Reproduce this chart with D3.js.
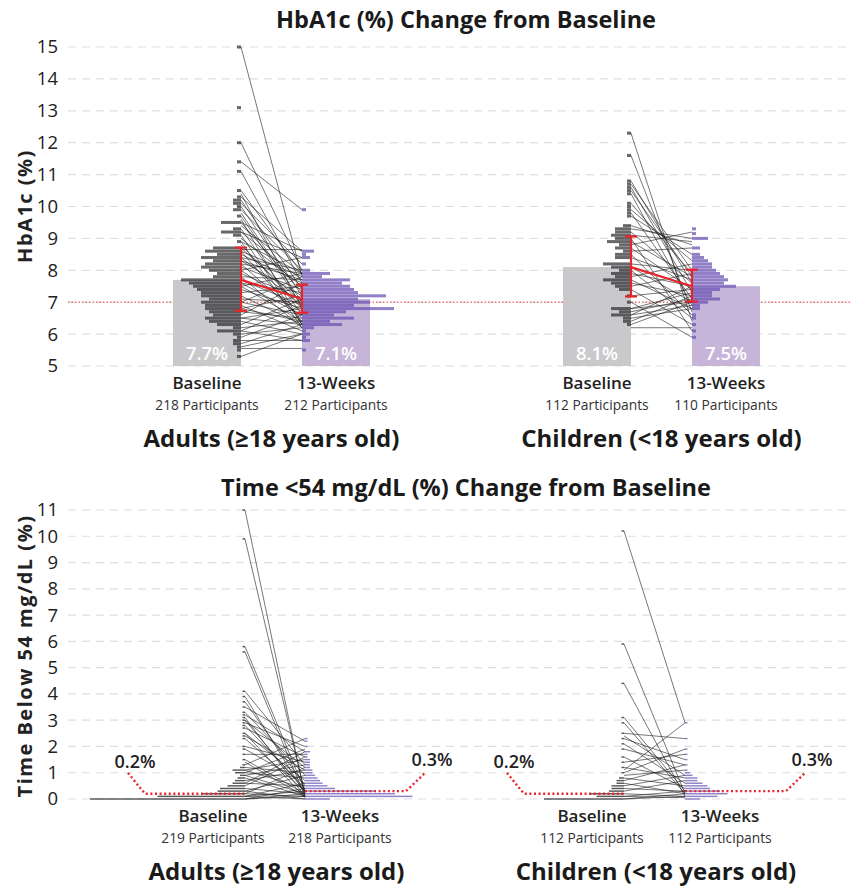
<!DOCTYPE html>
<html>
<head>
<meta charset="utf-8">
<script src="https://cdn.jsdelivr.net/npm/d3@7"></script>
<style>
  body { margin: 0; background: #fff; }
  svg { font-family: "Open Sans", sans-serif; }
</style>
</head>
<body>
<svg width="850" height="886"></svg>
<script>
// ---- data ----
const groups = ["Adults (≥18 years old)", "Children (<18 years old)"];
const timepoints = ["Baseline", "13-Weeks"];

// HbA1c panel
const hbaTicks = [5, 6, 7, 8, 9, 10, 11, 12, 13, 14, 15];
const hbaTarget = 7;
const hbaMeans = [[7.7, 7.1], [8.1, 7.5]];
const hbaErrors = [[[6.73, 8.71], [6.67, 7.55]], [[7.18, 9.06], [7.02, 8.02]]];
const hbaParticipants = [[218, 212], [112, 110]];

// histogram bins [value, count]
const hbaAdultBase = [[15.0,1],[13.1,1],[12.0,1],[11.4,1],[11.1,1],[10.5,1],[10.3,1],[10.2,2],[10.1,2],[10.0,1],[9.9,2],[9.7,1],[9.5,5],[9.3,2],[9.2,5],[9.1,2],[8.9,1],[8.7,7],[8.6,9],[8.5,6],[8.4,10],[8.3,7],[8.2,9],[8.1,10],[8.0,8],[7.9,6],[7.8,7],[7.7,15],[7.6,13],[7.5,12],[7.4,11],[7.3,10],[7.2,10],[7.1,8],[7.0,10],[6.9,9],[6.8,9],[6.7,8],[6.6,7],[6.5,9],[6.4,8],[6.3,6],[6.2,2],[6.1,6],[6.0,2],[5.9,1],[5.8,2],[5.7,2],[5.6,1],[5.5,1],[5.3,1]];
const hbaAdultWeek = [[9.9,1],[8.6,3],[8.5,1],[8.4,2],[8.2,1],[8.0,2],[7.9,7],[7.8,5],[7.7,12],[7.6,10],[7.5,12],[7.4,13],[7.3,14],[7.2,21],[7.1,14],[7.0,17],[6.9,13],[6.8,23],[6.7,11],[6.6,8],[6.5,13],[6.4,7],[6.3,10],[6.2,3],[6.1,1],[6.0,2],[5.9,1],[5.8,2],[5.5,1]];
const hbaChildBase = [[12.3,1],[11.6,1],[10.8,1],[10.7,1],[10.6,1],[10.5,1],[10.4,1],[10.1,1],[10.0,1],[9.9,1],[9.8,1],[9.7,1],[9.4,2],[9.3,4],[9.2,4],[9.1,5],[9.0,4],[8.9,6],[8.8,3],[8.7,4],[8.6,2],[8.5,4],[8.4,4],[8.2,7],[8.1,5],[8.0,3],[7.9,5],[7.8,4],[7.7,7],[7.6,5],[7.5,4],[7.4,3],[7.2,1],[7.0,1],[6.8,5],[6.7,3],[6.6,5],[6.5,2],[6.4,2],[6.3,1]];
const hbaChildWeek = [[9.3,1],[9.15,1],[9.0,4],[8.7,2],[8.5,2],[8.4,3],[8.3,4],[8.2,5],[8.1,5],[8.0,6],[7.9,7],[7.8,8],[7.7,9],[7.6,8],[7.5,11],[7.4,7],[7.3,5],[7.2,5],[7.1,7],[7.0,4],[6.9,2],[6.8,2],[6.6,1],[6.5,1],[6.3,1],[6.1,1],[5.9,1]];

// participant pairs [baseline, 13 weeks]
const hbaAdultPairs = [[15.0,7.8],[12.0,8.0],[11.4,9.9],[11.1,7.6],[10.5,7.9],[10.3,8.6],[10.2,7.4],[10.1,8.2],[10.0,7.2],[9.9,8.0],[9.7,6.9],[9.5,8.6],[9.5,7.3],[9.4,7.9],[9.3,6.6],[9.2,8.4],[9.2,7.7],[9.1,6.3],[9.0,7.5],[8.9,7.9],[8.8,6.8],[8.65,8.65],[8.7,7.0],[8.6,7.8],[8.6,6.4],[8.5,7.6],[8.4,8.0],[8.4,6.9],[8.3,7.2],[8.2,7.9],[8.2,6.5],[8.1,7.4],[8.0,6.7],[8.0,8.4],[7.9,7.1],[7.8,6.2],[7.8,7.7],[7.7,6.9],[7.6,7.3],[7.5,6.4],[7.5,7.9],[7.4,6.8],[7.3,7.5],[7.2,6.3],[7.1,7.0],[7.0,6.6],[7.0,7.8],[6.9,6.1],[6.8,7.2],[6.7,6.5],[6.6,7.6],[6.5,6.3],[6.5,6.8],[6.4,6.0],[6.3,7.1],[6.2,6.4],[6.1,5.8],[6.1,6.9],[6.0,6.2],[5.9,6.6],[5.8,5.8],[5.7,6.3],[5.6,6.0],[5.55,5.55],[5.3,6.0],[9.8,7.0],[10.4,6.8],[9.6,6.3],[8.9,6.2],[8.3,7.7],[7.6,6.6],[6.8,6.4]];
const hbaChildPairs = [[12.3,6.4],[11.6,6.7],[10.8,7.6],[10.7,8.0],[10.6,7.3],[10.5,7.8],[10.4,6.9],[10.1,7.9],[9.9,8.3],[9.8,7.1],[9.7,8.5],[9.4,8.8],[9.3,9.0],[9.2,7.6],[9.1,8.9],[9.0,6.1],[8.9,7.8],[8.8,9.2],[8.7,7.4],[8.6,8.7],[8.5,6.6],[8.4,7.7],[8.2,8.0],[8.1,7.0],[8.0,6.5],[7.9,7.5],[7.8,8.2],[7.7,6.8],[7.6,7.2],[7.5,7.9],[7.4,6.3],[7.2,7.4],[7.0,5.9],[6.8,7.3],[6.8,7.0],[6.7,7.1],[6.6,6.9],[6.6,7.5],[6.5,6.8],[6.4,7.2],[6.3,7.0],[6.2,6.2]];

// Time <54 mg/dL panel
const tbrTicks = [0, 1, 2, 3, 4, 5, 6, 7, 8, 9, 10, 11];
const tbrMeans = [[0.2, 0.3], [0.2, 0.3]];
const tbrParticipants = [[219, 218], [112, 112]];

const tbrAdultBase = [[0,62],[0.1,35],[0.2,17],[0.3,11],[0.4,10],[0.5,7],[0.6,5],[0.7,4],[0.8,3],[0.9,2],[1.0,4],[1.1,5],[1.2,2],[1.3,1],[1.5,1],[1.7,1],[1.9,1],[2.0,1],[2.3,1],[2.4,1],[2.5,1],[2.7,1],[2.8,1],[2.9,1],[3.0,1],[3.1,1],[3.2,1],[3.3,1],[3.5,1],[3.7,1],[3.9,1],[4.1,1],[5.6,1],[5.8,1],[9.9,1],[11.0,1]];
const tbrAdultWeek = [[0,10],[0.1,43],[0.2,36],[0.3,28],[0.4,12],[0.5,9],[0.6,7],[0.7,6],[0.8,5],[0.9,4],[1.0,3],[1.1,3],[1.2,2],[1.3,2],[1.4,2],[1.5,2],[1.6,1],[1.7,1],[1.8,2],[2.0,1],[2.2,1],[2.3,1]];
const tbrChildBase = [[0,32],[0.1,11],[0.2,14],[0.3,6],[0.4,5],[0.5,5],[0.6,3],[0.7,3],[0.8,2],[1.0,1],[1.2,1],[1.4,1],[1.6,1],[1.9,1],[2.1,1],[2.3,1],[2.5,1],[2.9,1],[3.1,1],[4.4,1],[5.9,1],[10.2,1]];
const tbrChildWeek = [[0,6],[0.1,13],[0.2,17],[0.3,14],[0.4,10],[0.5,9],[0.6,7],[0.7,5],[0.8,5],[0.9,3],[1.0,2],[1.1,1],[1.3,1],[1.5,1],[1.7,1],[1.9,1],[2.3,1],[2.9,1]];

const tbrAdultPairs = [[11.0,0.1],[9.9,0.2],[5.8,0.3],[5.6,0.1],[4.1,1.3],[3.9,0.2],[3.7,0.5],[3.5,2.2],[3.3,0.9],[3.2,1.8],[3.1,0.1],[3.0,1.2],[2.9,2.0],[2.8,0.4],[2.7,1.6],[2.5,0.7],[2.4,1.1],[2.3,0.3],[2.0,1.4],[1.9,0.6],[1.7,1.7],[1.5,0.2],[1.3,2.3],[1.2,1.0],[1.1,1.5],[1.1,0.4],[1.0,1.9],[1.0,0.8],[0.9,1.3],[0.8,0.1],[0.7,1.1],[0.6,0.5],[0.5,1.6],[0.4,0.2],[0.3,0.9],[0.2,1.2],[0.2,0.1],[0.1,0.6],[0.1,0.3],[0,0.1],[0,0.2],[0,0.4],[0.1,0],[0.3,0],[2.5,0.05],[3.0,0.3],[1.4,0.1],[0.6,1.8],[0.9,0.2]];
const tbrChildPairs = [[10.2,2.9],[5.9,0.2],[4.4,0.1],[3.1,0.3],[2.9,0.2],[2.5,2.3],[2.4,0.9],[2.3,1.5],[2.1,0.6],[1.9,1.3],[1.6,0.4],[1.4,1.7],[1.2,0.8],[1.1,2.9],[1.0,1.9],[0.9,1.1],[0.8,0.5],[0.7,1.3],[0.6,0.2],[0.5,0.9],[0.4,0.3],[0.3,0.7],[0.2,0.1],[0.1,0.3],[0,0.1],[0,0.2],[0.1,0.05]];

// ---- drawing ----
const svg = d3.select('svg');
const fmt = d3.format('.1f');

function drawPanel(cfg) {
	const y = d3.scaleLinear().domain(cfg.domain).range(cfg.range);
	const hx = d3.scaleLinear().domain([0, 10]).range([0, cfg.pxPer10]);
	const g = svg.append('g');

	// dashed grid
	g.selectAll('.grid')
		.data(cfg.ticks)
		.enter()
		.append('line')
		.attr('class', 'grid')
		.attr('x1', 68).attr('x2', 850)
		.attr('y1', d => y(d)).attr('y2', d => y(d))
		.attr('stroke', '#dedede')
		.attr('stroke-width', 1.2)
		.attr('stroke-dasharray', '8,6');

	const axis = d3.axisLeft(y)
		.tickValues(cfg.ticks)
		.tickSize(0)
		.tickPadding(0)
		.tickFormat(d3.format('d'));
	g.append('g')
		.attr('transform', 'translate(58,0)')
		.call(axis)
		.call(a => a.select('.domain').remove())
		.selectAll('text')
		.attr('font-size', 18.5)
		.attr('font-family', '"Open Sans", sans-serif')
		.attr('fill', '#222');

	g.append('text')
		.attr('transform', `translate(32,${cfg.yLabelY}) rotate(-90)`)
		.attr('text-anchor', 'middle')
		.attr('font-size', 20)
		.attr('font-weight', 700)
		.attr('letter-spacing', 1.5)
		.attr('fill', '#222')
		.text(cfg.yLabel);

	g.append('text')
		.attr('x', 466).attr('y', cfg.titleY)
		.attr('text-anchor', 'middle')
		.attr('font-size', 23.5)
		.attr('font-weight', 700)
		.attr('fill', '#1a1a1a')
		.text(cfg.title);

	if (cfg.target != null) {
		g.append('line')
			.attr('x1', 68).attr('x2', 850)
			.attr('y1', y(cfg.target)).attr('y2', y(cfg.target))
			.attr('stroke', '#e8383d')
			.attr('stroke-width', 1)
			.attr('stroke-dasharray', '1.5,2');
	}

	groups.forEach((grp, gi) => {
		const [xb, xw] = cfg.xs[gi];
		const means = cfg.means[gi];

		if (cfg.bars) {
			g.append('rect')
				.attr('x', xb - 68).attr('width', 68)
				.attr('y', y(means[0])).attr('height', y(cfg.domain[0]) - y(means[0]))
				.attr('fill', '#c9c9cc');
			g.append('rect')
				.attr('x', xw).attr('width', 68)
				.attr('y', y(means[1])).attr('height', y(cfg.domain[0]) - y(means[1]))
				.attr('fill', '#c7b5d9');
		}

		const binH = Math.abs(y(0.1) - y(0)) * cfg.binFill;
		g.append('g').selectAll('rect')
			.data(cfg.hists[gi][0])
			.enter()
			.append('rect')
			.attr('x', d => xb - hx(d[1]))
			.attr('width', d => hx(d[1]))
			.attr('y', d => y(d[0]) - binH / 2)
			.attr('height', binH)
			.attr('fill', cfg.baseColor)
			.attr('fill-opacity', cfg.histOpacity);
		g.append('g').selectAll('rect')
			.data(cfg.hists[gi][1])
			.enter()
			.append('rect')
			.attr('x', xw)
			.attr('width', d => hx(d[1]))
			.attr('y', d => y(d[0]) - binH / 2)
			.attr('height', binH)
			.attr('fill', cfg.weekColor)
			.attr('fill-opacity', cfg.histOpacity);

		if (cfg.bars) {
			g.selectAll(null)
				.data([[xb - 34, means[0]], [xw + 34, means[1]]])
				.enter()
				.append('text')
				.attr('x', d => d[0])
				.attr('y', y(cfg.domain[0]) - 6)
				.attr('text-anchor', 'middle')
				.attr('font-size', 18.5)
				.attr('font-weight', 600)
				.attr('fill', '#fff')
				.text(d => fmt(d[1]) + '%');
		}

		// participant lines
		g.append('g').selectAll('line')
			.data(cfg.pairs[gi])
			.enter()
			.append('line')
			.attr('x1', xb).attr('x2', xw)
			.attr('y1', d => y(d[0])).attr('y2', d => y(d[1]))
			.attr('stroke', '#1a1a1a')
			.attr('stroke-opacity', 0.85)
			.attr('stroke-width', 0.7);

		if (cfg.errors) {
			const err = cfg.errors[gi];
			g.append('line')
				.attr('x1', xb).attr('x2', xw)
				.attr('y1', y(means[0])).attr('y2', y(means[1]))
				.attr('stroke', '#e8232a').attr('stroke-width', 2.2);
			[[xb, err[0]], [xw, err[1]]].forEach(([x, e]) => {
				g.append('line')
					.attr('x1', x).attr('x2', x)
					.attr('y1', y(e[0])).attr('y2', y(e[1]))
					.attr('stroke', '#e8232a').attr('stroke-width', 2.2);
				e.forEach(v => g.append('line')
					.attr('x1', x - 6).attr('x2', x + 6)
					.attr('y1', y(v)).attr('y2', y(v))
					.attr('stroke', '#e8232a').attr('stroke-width', 2.2));
			});
		}

		if (cfg.meanCallouts) {
			const line = d3.line();
			const ly = cfg.range[0] - 26;
			const pathsData = [
				[[xb - 117, ly], [xb - 100, y(means[0])], [xb, y(means[0])]],
				[[xw, y(means[1])], [xw + 101, y(means[1])], [xw + 120, ly]]
			];
			g.selectAll(null)
				.data(pathsData)
				.enter()
				.append('path')
				.attr('d', line)
				.attr('fill', 'none')
				.attr('stroke', '#e8232a')
				.attr('stroke-width', 2.4)
				.attr('stroke-dasharray', '2,2.6');
			g.selectAll(null)
				.data([[xb - 110, ly - 5, means[0]], [xw + 127, ly - 7, means[1]]])
				.enter()
				.append('text')
				.attr('x', d => d[0]).attr('y', d => d[1])
				.attr('text-anchor', 'middle')
				.attr('font-size', 18)
				.attr('font-weight', 600)
				.attr('fill', '#222')
				.text(d => fmt(d[2]) + '%');
		}

		// category labels
		const lx = [xb + cfg.labelOffsets[0], xw + cfg.labelOffsets[1]];
		timepoints.forEach((tp, ti) => {
			g.append('text')
				.attr('x', lx[ti]).attr('y', cfg.labelY)
				.attr('text-anchor', 'middle')
				.attr('font-size', 17)
				.attr('font-weight', 600)
				.attr('fill', '#222')
				.text(tp);
			g.append('text')
				.attr('x', lx[ti]).attr('y', cfg.labelY + 21)
				.attr('text-anchor', 'middle')
				.attr('font-size', 13.8)
				.attr('fill', '#333')
				.text(cfg.participants[gi][ti] + ' Participants');
		});
		g.append('text')
			.attr('x', (lx[0] + lx[1]) / 2).attr('y', cfg.labelY + 58)
			.attr('text-anchor', 'middle')
			.attr('font-size', 24)
			.attr('font-weight', 700)
			.attr('fill', '#1a1a1a')
			.text(grp);
	});
}

drawPanel({
	domain: [5, 15], range: [366, 47], ticks: hbaTicks,
	title: 'HbA1c (%) Change from Baseline', titleY: 28,
	yLabel: 'HbA1c (%)', yLabelY: 206,
	target: hbaTarget,
	xs: [[241, 302], [631, 692]],
	means: hbaMeans, errors: hbaErrors, bars: true,
	hists: [[hbaAdultBase, hbaAdultWeek], [hbaChildBase, hbaChildWeek]],
	pairs: [hbaAdultPairs, hbaChildPairs],
	pxPer10: 40, binFill: 0.95, histOpacity: 0.72,
	baseColor: '#2e2e30', weekColor: '#664fb2',
	participants: hbaParticipants,
	labelOffsets: [-34, 34], labelY: 389
});

drawPanel({
	domain: [0, 11], range: [799, 510], ticks: tbrTicks,
	title: 'Time <54 mg/dL (%) Change from Baseline', titleY: 496,
	yLabel: 'Time Below 54 mg/dL (%)', yLabelY: 656,
	target: null,
	xs: [[245, 305], [624, 685]],
	means: tbrMeans, errors: null, bars: false, meanCallouts: true,
	hists: [[tbrAdultBase, tbrAdultWeek], [tbrChildBase, tbrChildWeek]],
	pairs: [tbrAdultPairs, tbrChildPairs],
	pxPer10: 25, binFill: 0.55, histOpacity: 0.85,
	baseColor: '#3a3a3c', weekColor: '#7a6cc0',
	participants: tbrParticipants,
	labelOffsets: [-32, 35], labelY: 822
});
</script>
</body>
</html>
